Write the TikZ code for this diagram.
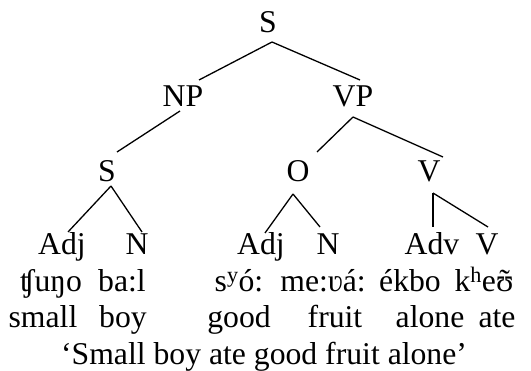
\documentclass[tikz,border=0pt]{standalone}
\usepackage{fontspec}
\setmainfont{Liberation Serif}
\newcommand\tildeupsilon{{\setbox0=\hbox{ʊ}\rlap{\hbox to\wd0{\hss ˜\hss}}ʊ}}
\begin{document}
\begin{tikzpicture}[x=1pt,y=-1pt,
  lab/.style={anchor=base,inner sep=0pt,font=\fontsize{31.7}{36}\selectfont},
  br/.style={line width=1.3pt}]
\useasboundingbox (0,0) rectangle (531,371);
% categories
\node[lab] (s)   at (268,33)  {S};
\node[lab] (np)  at (183,107) {NP};
\node[lab] (vp)  at (353,107) {VP};
\node[lab] (s2)  at (107,182) {S};
\node[lab] (o)   at (298,182) {O};
\node[lab] (v)   at (429,182) {V};
\node[lab] (adj1) at (62,255) {Adj};
\node[lab] (n1)  at (137,255) {N};
\node[lab] (adj2) at (261,255) {Adj};
\node[lab] (n2)  at (328,255) {N};
\node[lab] (adv) at (432,255) {Adv};
\node[lab] (v2)  at (487,255) {V};
% IPA
\node[lab] (w1) at (51,292)  {ʧuŋo};
\node[lab] (w2) at (122,292) {ba:l};
\node[lab] (w3) at (239,292) {s\textsuperscript{y}ó:};
\node[lab] (w4) at (323,292) {me:ʋá:};
\node[lab] (w5) at (410,292) {ékbo};
\node[lab] (w6) at (484,292) {k\textsuperscript{h}e\tildeupsilon};
% glosses
\node[lab] (g1) at (43,328)  {small};
\node[lab] (g2) at (123,328) {boy};
\node[lab] (g3) at (239,328) {good};
\node[lab] (g4) at (335,328) {fruit};
\node[lab] (g5) at (430,328) {alone};
\node[lab] (g6) at (497,328) {ate};
\node[lab] (tr) at (264,365) {‘Small boy ate good fruit alone’};
% branches
\draw[br] ([shift={(4,9)}]s.base) -- ([shift={(16,-27)}]np.base);
\draw[br] ([shift={(4,9)}]s.base) -- ([shift={(7,-27)}]vp.base);
\draw[br] ([shift={(-3,4)}]np.base) -- ([shift={(10,-30)}]s2.base);
\draw[br] ([shift={(0,10)}]vp.base) -- ([shift={(19,-30)}]o.base);
\draw[br] ([shift={(0,10)}]vp.base) -- ([shift={(14,-25)}]v.base);
\draw[br] ([shift={(4,4)}]s2.base) -- ([shift={(6,-23)}]adj1.base);
\draw[br] ([shift={(4,4)}]s2.base) -- ([shift={(5,-23)}]n1.base);
\draw[br] ([shift={(-5,12)}]o.base) -- ([shift={(4,-22)}]adj2.base);
\draw[br] ([shift={(-5,12)}]o.base) -- ([shift={(-8,-28)}]n2.base);
\draw[br] ([shift={(4,11)}]v.base) -- ([shift={(1,-28)}]adv.base);
\draw[br] ([shift={(4,11)}]v.base) -- ([shift={(1,-28)}]v2.base);
\end{tikzpicture}
\end{document}
